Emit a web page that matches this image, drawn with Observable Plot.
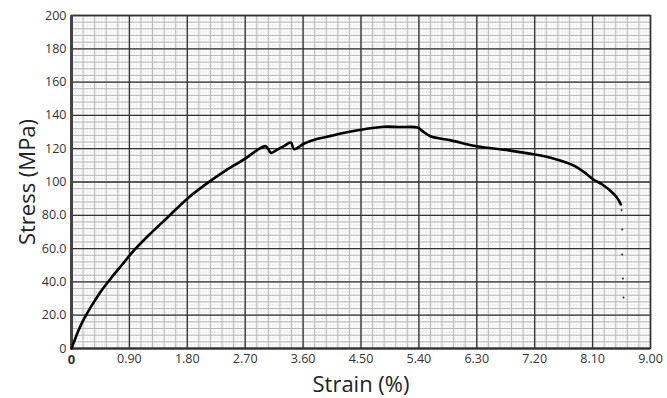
<!DOCTYPE html>
<html>
<head>
<meta charset="utf-8">
<script src="https://cdn.jsdelivr.net/npm/d3@7"></script>
<script src="https://cdn.jsdelivr.net/npm/@observablehq/plot@0.6"></script>
<style>
  html, body { margin: 0; padding: 0; background: #fff; }
  #chart svg { display: block; }
</style>
</head>
<body>
<div id="chart"></div>
<script>
const strain = [0, 0.04, 0.1, 0.17, 0.24, 0.35, 0.47, 0.61, 0.78, 0.95, 1.2, 1.5, 1.8, 2.1, 2.4, 2.7, 2.88, 3.02, 3.1, 3.2, 3.3, 3.41, 3.46, 3.61, 3.8, 4.03, 4.3, 4.55, 4.86, 5.1, 5.38, 5.45, 5.58, 5.9, 6.3, 6.8, 7.2, 7.5, 7.8, 8.0, 8.1, 8.25, 8.38, 8.48, 8.54];
const stress = [0, 4, 10, 16, 21, 28, 35, 42, 50, 58, 68, 79, 90, 99, 107, 114, 119, 121.5, 117.5, 119.5, 121.5, 123.7, 119.7, 123, 125.7, 127.7, 130, 131.7, 133.2, 133, 132.7, 130.7, 127.5, 125, 121.5, 119, 116.5, 114, 110, 105, 101.8, 98.5, 94.6, 90.5, 86.5];
const dotStrain = [8.55, 8.56, 8.56, 8.57, 8.58];
const dotStress = [83, 71.5, 56.4, 42, 30.7];
const xTicks = [0.9, 1.8, 2.7, 3.6, 4.5, 5.4, 6.3, 7.2, 8.1, 9.0];
const yTicks = [0, 20, 40, 60, 80, 100, 120, 140, 160, 180, 200];

const curve = strain.map((s, i) => ({strain: s, stress: stress[i]}));
const dots = dotStrain.map((s, i) => ({strain: s, stress: dotStress[i]}));

const fine = {x: d3.range(0, 9.0001, 0.045), y: d3.range(0, 200.001, 1)};
const mid = {x: d3.range(0, 9.0001, 0.18), y: d3.range(0, 200.001, 4)};
const major = {x: d3.range(0, 9.0001, 0.9), y: d3.range(0, 200.001, 20)};

const yFmt = d => d === 0 ? "0" : (d < 100 ? d.toFixed(1) : String(d));

const chart = Plot.plot({
  width: 667,
  height: 398,
  marginLeft: 71,
  marginRight: 17,
  marginTop: 15,
  marginBottom: 50,
  style: {fontFamily: "'Open Sans', 'Noto Sans', sans-serif", color: "#333", background: "#fff"},
  x: {domain: [0, 9], label: null},
  y: {domain: [0, 200], label: null},
  marks: [
    Plot.frame({fill: "#ececec", stroke: null}),
    Plot.ruleX(fine.x, {stroke: "#fff", strokeWidth: 1.2}),
    Plot.ruleY(fine.y.filter((d, i) => i % 2 === 1), {stroke: "#fff", strokeWidth: 0.9}),
    Plot.ruleX(mid.x, {stroke: "#b8b8b8", strokeWidth: 1}),
    Plot.ruleY(mid.y, {stroke: "#b8b8b8", strokeWidth: 1}),
    Plot.ruleX(major.x, {stroke: "#333", strokeWidth: 1.3}),
    Plot.ruleY(major.y, {stroke: "#333", strokeWidth: 1.3}),
    Plot.frame({stroke: "#333", strokeWidth: 1.5}),
    Plot.ruleX([0], {stroke: "#444", strokeWidth: 3}),
    Plot.ruleY([0], {stroke: "#333", strokeWidth: 2}),
    Plot.line(curve, {x: "strain", y: "stress", curve: "catmull-rom", stroke: "#000", strokeWidth: 2.6, strokeLinejoin: "round", strokeLinecap: "round"}),
    Plot.dot(dots, {x: "strain", y: "stress", r: 1, fill: "#222", stroke: null}),
    Plot.axisX(xTicks, {tickSize: 0, tickPadding: 6, fontSize: 12.5, tickFormat: d => d.toFixed(2), label: null}),
    Plot.axisX([0], {tickSize: 0, tickPadding: 6, fontSize: 13, fontWeight: "bold", tickFormat: () => "0", label: null}),
    Plot.axisY(yTicks, {tickSize: 0, tickPadding: 5, fontSize: 12.5, tickFormat: yFmt, label: null}),
    Plot.text(["Strain (%)"], {frameAnchor: "bottom", dy: 43, fontSize: 22, fill: "#222"}),
    Plot.text(["Stress (MPa)"], {frameAnchor: "left", textAnchor: "middle", dx: -44, rotate: -90, fontSize: 22, fill: "#222"})
  ]
});
document.getElementById("chart").appendChild(chart);
</script>
</body>
</html>
